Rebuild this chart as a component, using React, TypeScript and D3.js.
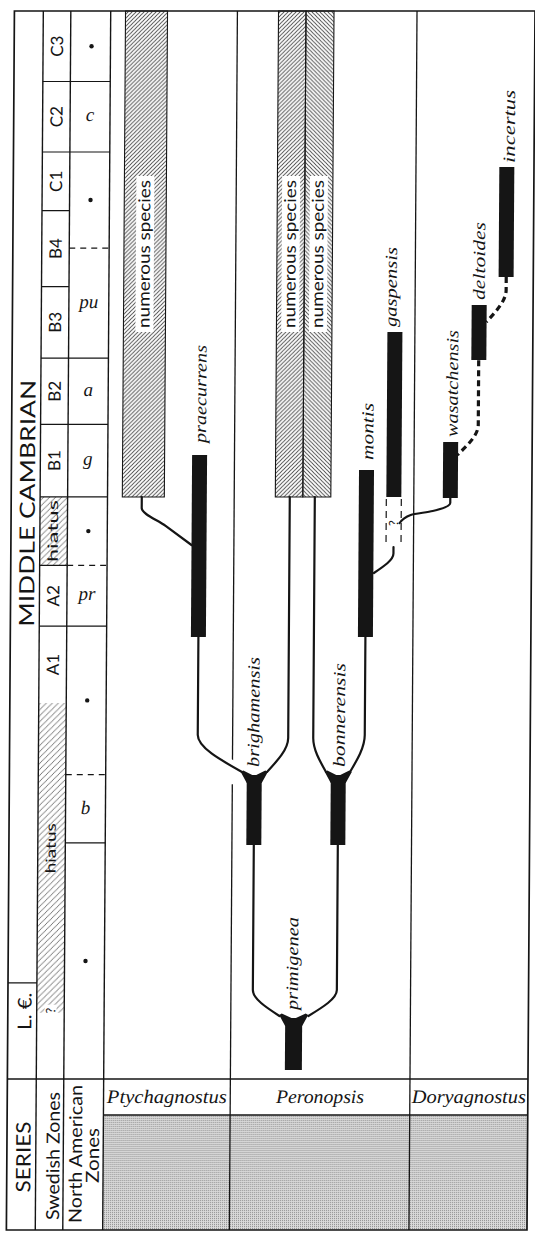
import React from 'react';
import * as d3 from 'd3';

// ---------------- data ----------------
// levels: 0 = base of the chart, 100 = top of the chart (stratigraphic height)
// lanes:  0 = left edge of the genus area, 100 = right edge
const seriesLabels = ['MIDDLE CAMBRIAN', 'L. €.'];
const seriesBounds = [100, 9.0, 0];
const seriesLabelLevels = [53.9, 6.35];

const swedishZones = ['C3', 'C2', 'C1', 'B4', 'B3', 'B2', 'B1', 'hiatus', 'A2', 'A1'];
const swedishBounds = [100, 93.4, 86.8, 81.3, 74.2, 67.5, 61.3, 54.5, 48.1, 42.4, 35.2];
const swedishHiatus = [[54.5, 48.1], [35.2, 6.2]];
const lowerHiatusLabel = 21.6;
const lowerHiatusQuery = 6.4;

const naZones = ['•', 'c', '•', 'pu', 'a', 'g', '•', 'pr', '•', 'b', '•'];
const naBounds = [100, 93.4, 86.8, 77.8, 67.5, 61.3, 54.5, 48.1, 42.4, 28.5, 22.1, 0];
const naDashed = [3, 7, 9];

const genera = ['Ptychagnostus', 'Peronopsis', 'Doryagnostus'];
const genusBounds = [0, 29.86, 72.19, 100];
const genusLineGap = [27.6, 29.7];

// "numerous species" hatched ranges
const numerousGroups = [
  { genus: 'Ptychagnostus', from: 3.49, to: 13.39, top: 100, base: 54.49, hatch: 'R' },
  { genus: 'Peronopsis', from: 39.55, to: 46.03, top: 100, base: 54.49, hatch: 'R' },
  { genus: 'Peronopsis', from: 46.03, to: 52.63, top: 100, base: 54.49, hatch: 'L' },
];
const numerousLabelLevel = 77.25;

const species = [
  { name: 'praecurrens', lane: 21.64, top: 58.43, base: 41.39, label: 59.55 },
  { name: 'brighamensis', lane: 35.02, top: 28.46, base: 21.91, label: 29.21 },
  { name: 'bonnerensis', lane: 54.82, top: 28.46, base: 21.91, label: 29.21 },
  { name: 'primigenea', lane: 44.69, top: 5.71, base: 0.84, label: 6.46 },
  { name: 'montis', lane: 61.0, top: 57.02, base: 41.39, label: 57.96 },
  { name: 'gaspensis', lane: 67.48, top: 69.94, base: 54.49, label: 70.41 },
  { name: 'wasatchensis', lane: 80.79, top: 59.64, base: 54.4, label: 60.11 },
  { name: 'deltoides', lane: 87.3, top: 72.47, base: 67.32, label: 72.94 },
  { name: 'incertus', lane: 93.6, top: 85.39, base: 75.09, label: 85.77 },
];
const forkedSpecies = ['brighamensis', 'bonnerensis', 'primigenea'];

// uncertain range below gaspensis
const queryRange = { lane: 67.48, top: 54.31, base: 49.81 };

// lineage connectors, [lane, level], listed from top to bottom
const solidLinks = [
  [[21.64, 41.39], [21.64, 32.21], [32.12, 28.75]],
  [[42.96, 54.49], [42.96, 31.93], [38.01, 28.75]],
  [[48.86, 54.49], [48.86, 31.93], [51.92, 28.75]],
  [[61.0, 41.39], [61.0, 32.21], [57.58, 28.75]],
  [[35.02, 21.91], [35.02, 8.33], [41.32, 5.9]],
  [[54.82, 21.91], [54.82, 8.33], [48.15, 5.9]],
  [[8.08, 54.49], [8.08, 53.46], [13.74, 51.78], [19.87, 50.0]],
  [[67.48, 49.81], [67.48, 49.2], [62.9, 47.38]],
  [[80.79, 54.4], [80.79, 53.93], [76.67, 53.18], [71.48, 52.81], [68.89, 52.06]],
];
const dashedLinks = [
  [[87.27, 67.3], [87.27, 61.24], [82.4, 58.43]],
  [[93.63, 75.09], [93.63, 73.88], [89.0, 70.88]],
];

// ---------------- styles ----------------
const INK = '#151515';
const SANS = 'Lato, "Open Sans", "DejaVu Sans", sans-serif';
const SERIF = '"Liberation Serif", "DejaVu Serif", serif';
const BAR_W = 15;
const FORK_BAR_W: Record<string, number> = { primigenea: 17 };
const labelDx: Record<string, number> = {
  praecurrens: 6.3, brighamensis: 4.6, bonnerensis: 6.3, primigenea: 4, montis: 6.6,
  gaspensis: 1.5, wasatchensis: 6.9, deltoides: 5.5, incertus: 7.8,
};
const labelLen: Record<string, number> = {
  praecurrens: 98, brighamensis: 110, bonnerensis: 104, primigenea: 93, montis: 57,
  gaspensis: 80, wasatchensis: 107, deltoides: 78, incertus: 73,
};
const genusLen: Record<string, number> = { Ptychagnostus: 120, Peronopsis: 88, Doryagnostus: 114 };

function VText(props: any) {
  const { x, y, size, family, italic, anchor = 'middle', dy = '0', len, weight, children } = props;
  return (
    <text
      transform={`translate(${x},${y}) rotate(-90)`}
      textAnchor={anchor}
      dy={dy}
      fontSize={size}
      fontFamily={family}
      fontStyle={italic ? 'italic' : 'normal'}
      fontWeight={weight || 'normal'}
      fill={INK}
      textLength={len}
      lengthAdjust={len ? 'spacingAndGlyphs' : undefined}
    >
      {children}
    </text>
  );
}

export default function App() {
  const Y = d3.scaleLinear().domain([0, 100]).range([1079, 11]);
  const X = d3.scaleLinear().domain([0, 100]).range([106.7, 531]);
  const link = d3.line<number[]>().x((d) => X(d[0])).y((d) => Y(d[1])).curve(d3.curveMonotoneY);

  const colX = [10.4, 39.3, 66.8, X(0)];
  const top = Y(100);
  const base = Y(0);
  const right = X(100);
  const headBottom = 1115;
  const bottom = 1230;
  const mid = (a: number, b: number) => (a + b) / 2;

  return (
    <svg
      width={535}
      height={1233}
      viewBox="0 0 535 1233"
      style={{ position: 'absolute', left: 0, top: 0, display: 'block' }}
    >
      <defs>
        <pattern id="hatchR" patternUnits="userSpaceOnUse" width="4" height="4">
          <path d="M-1,1 l2,-2 M0,4 l4,-4 M3,5 l2,-2" stroke="#3a3a3a" strokeWidth="0.85" />
        </pattern>
        <pattern id="hatchL" patternUnits="userSpaceOnUse" width="4" height="4">
          <path d="M-1,3 l2,2 M0,0 l4,4 M3,-1 l2,2" stroke="#3a3a3a" strokeWidth="0.85" />
        </pattern>
        <pattern id="hatchS" patternUnits="userSpaceOnUse" width="6" height="6">
          <path d="M-1.5,1.5 l3,-3 M0,6 l6,-6 M4.5,7.5 l3,-3" stroke="#555" strokeWidth="0.8" />
        </pattern>
        <pattern id="stipple" patternUnits="userSpaceOnUse" width="2" height="2">
          <rect width="2" height="2" fill="#dadada" />
          <rect width="1" height="1" fill="#8c8c8c" />
        </pattern>
      </defs>
      <rect width={535} height={1233} fill="#fff" />
      <g transform="translate(4.09,0) skewX(-0.378)">
        {/* stippled bottom row */}
        {genera.map((g, i) => (
          <rect
            key={'st' + g}
            x={X(genusBounds[i])}
            y={headBottom}
            width={X(genusBounds[i + 1]) - X(genusBounds[i])}
            height={bottom - headBottom}
            fill="url(#stipple)"
          />
        ))}

        {/* Swedish hiatus hatching */}
        {swedishHiatus.map(([a, b], i) => (
          <rect key={'sh' + i} x={colX[1]} y={Y(a)} width={colX[2] - colX[1]} height={Y(b) - Y(a)} fill="url(#hatchS)" />
        ))}

        {/* frame and grid */}
        <g stroke={INK} fill="none">
          <rect x={colX[0]} y={top} width={right - colX[0]} height={bottom - top} strokeWidth={1.7} />
          {colX.slice(1).map((x, i) => (
            <line key={'cv' + i} x1={x} x2={x} y1={top} y2={bottom} strokeWidth={1.4} />
          ))}
          <line x1={X(genusBounds[1])} x2={X(genusBounds[1])} y1={top} y2={Y(genusLineGap[1])} strokeWidth={1.3} />
          <line x1={X(genusBounds[1])} x2={X(genusBounds[1])} y1={Y(genusLineGap[0])} y2={bottom} strokeWidth={1.3} />
          <line x1={X(genusBounds[2])} x2={X(genusBounds[2])} y1={top} y2={bottom} strokeWidth={1.3} />
          <line x1={colX[0]} x2={right} y1={base} y2={base} strokeWidth={1.6} />
          <line x1={X(0)} x2={right} y1={headBottom} y2={headBottom} strokeWidth={1.4} />
          <line x1={colX[0]} x2={colX[1]} y1={Y(seriesBounds[1])} y2={Y(seriesBounds[1])} strokeWidth={1.2} />
          {swedishBounds.slice(1, swedishBounds.length - 1).map((b, i) => (
            <line key={'sb' + i} x1={colX[1]} x2={colX[2]} y1={Y(b)} y2={Y(b)} strokeWidth={1.2} />
          ))}
          {naBounds.slice(1, naBounds.length - 1).map((b, j) => {
            const i = j + 1;
            const dashed = naDashed.includes(i);
            return (
              <line
                key={'nb' + i}
                x1={colX[2]}
                x2={colX[3]}
                y1={Y(b)}
                y2={Y(b)}
                strokeWidth={1.2}
                strokeDasharray={dashed ? '6,5' : undefined}
              />
            );
          })}
        </g>

        {/* series labels */}
        {seriesLabels.map((s, i) => (
          <VText
            key={'se' + s}
            x={34}
            y={Y(seriesLabelLevels[i])}
            size={i === 0 ? 21 : 19}
            family={SANS}
            len={i === 0 ? 247 : 37}
          >
            {s}
          </VText>
        ))}

        {/* Swedish zone labels */}
        {swedishZones.map((z, i) =>
          z === 'hiatus' ? (
            <VText key={'sz' + i} x={mid(colX[1], colX[2])} y={Y(mid(swedishBounds[i], swedishBounds[i + 1]))} dy="0.3em" size={14} family={SANS} len={62}>
              {z}
            </VText>
          ) : (
            <VText key={'sz' + i} x={mid(colX[1], colX[2])} y={Y(mid(swedishBounds[i], swedishBounds[i + 1]))} dy="0.36em" size={17} family={SANS}>
              {z}
            </VText>
          )
        )}
        <VText x={mid(colX[1], colX[2])} y={Y(lowerHiatusLabel)} dy="0.3em" size={14} family={SANS} len={50}>
          hiatus
        </VText>
        <rect x={mid(colX[1], colX[2]) - 6} y={Y(lowerHiatusQuery) - 6} width={12} height={12} fill="#fff" />
        <VText x={mid(colX[1], colX[2])} y={Y(lowerHiatusQuery)} dy="0.36em" size={13} family={SANS}>
          ?
        </VText>

        {/* North American zone labels */}
        {naZones.map((z, i) => {
          const cy = Y(mid(naBounds[i], naBounds[i + 1]));
          const cx = mid(colX[2], colX[3]);
          return z === '•' ? (
            <circle key={'na' + i} cx={cx + 1} cy={cy} r={2.2} fill={INK} />
          ) : (
            <text key={'na' + i} x={cx} y={cy} dy="0.25em" textAnchor="middle" fontSize={19} fontStyle="italic" fontFamily={SERIF} fill={INK}>
              {z}
            </text>
          );
        })}

        {/* bottom header labels */}
        <VText x={34} y={1157} size={20} family={SANS} len={71}>SERIES</VText>
        <VText x={63} y={1156} size={18} family={SANS} len={128}>Swedish Zones</VText>
        <VText x={85.5} y={1154} size={18} family={SANS} len={138}>North American</VText>
        <VText x={102.5} y={1155.5} size={18} family={SANS} len={55}>Zones</VText>
        {genera.map((g, i) => (
          <text
            key={'gn' + g}
            x={mid(X(genusBounds[i]), X(genusBounds[i + 1]))}
            y={1103}
            textAnchor="middle"
            fontSize={19}
            fontStyle="italic"
            fontFamily={SERIF}
            fill={INK}
            textLength={genusLen[g]}
            lengthAdjust="spacingAndGlyphs"
          >
            {g}
          </text>
        ))}

        {/* numerous species */}
        {numerousGroups.map((n, i) => (
          <rect
            key={'ng' + i}
            x={X(n.from)}
            y={Y(n.top)}
            width={X(n.to) - X(n.from)}
            height={Y(n.base) - Y(n.top)}
            fill={n.hatch === 'R' ? 'url(#hatchR)' : 'url(#hatchL)'}
            stroke={INK}
            strokeWidth={1.1}
          />
        ))}
        {numerousGroups.map((n, i) => {
          const cx = mid(X(n.from), X(n.to));
          const cy = Y(numerousLabelLevel);
          return (
            <g key={'nl' + i}>
              <rect x={cx - 9} y={cy - 78} width={18} height={156} fill="#fff" />
              <VText x={cx} y={cy} dy="0.3em" size={16.5} family={SANS} len={148}>
                numerous species
              </VText>
            </g>
          );
        })}

        {/* connectors */}
        <path d={link(solidLinks[0] as any) || ''} fill="none" stroke="#fff" strokeWidth={12} />
        {solidLinks.map((l, i) => (
          <path key={'sl' + i} d={link(l as any) || ''} fill="none" stroke={INK} strokeWidth={2.2} strokeLinecap="round" />
        ))}
        {dashedLinks.map((l, i) => (
          <path key={'dl' + i} d={link(l as any) || ''} fill="none" stroke={INK} strokeWidth={3.2} strokeDasharray="6,4" />
        ))}

        {/* uncertain range */}
        <g stroke={INK} strokeWidth={1.2} strokeDasharray="7,5" fill="none">
          <line x1={X(queryRange.lane) - BAR_W / 2} x2={X(queryRange.lane) - BAR_W / 2} y1={Y(queryRange.top)} y2={Y(queryRange.base)} />
          <line x1={X(queryRange.lane) + BAR_W / 2} x2={X(queryRange.lane) + BAR_W / 2} y1={Y(queryRange.top)} y2={Y(queryRange.base)} />
        </g>
        <VText x={X(queryRange.lane)} y={Y(mid(queryRange.top, queryRange.base))} dy="0.36em" size={13} family={SANS}>
          ?
        </VText>

        {/* species range bars */}
        {species.map((s) => {
          const w = FORK_BAR_W[s.name] || BAR_W;
          const cx = X(s.lane);
          const xL = cx - w / 2;
          const xR = cx + w / 2;
          const yT = Y(s.top);
          const yB = Y(s.base);
          return (
            <g key={'sp' + s.name}>
              <rect x={xL} y={yT} width={w} height={yB - yT} fill={INK} />
              {forkedSpecies.includes(s.name) && (
                <path
                  d={`M${xL},${yT + 8} L${xL - 6},${yT - 3} L${xL - 3.5},${yT - 4.5} L${cx},${yT + 1} L${xR + 3.5},${yT - 4.5} L${xR + 6},${yT - 3} L${xR},${yT + 8} Z`}
                  fill={INK}
                />
              )}
            </g>
          );
        })}

        {/* species labels */}
        {species.map((s) => (
          <VText
            key={'lb' + s.name}
            x={X(s.lane) + labelDx[s.name]}
            y={Y(s.label)}
            anchor="start"
            size={17}
            italic
            family={SERIF}
            len={labelLen[s.name]}
          >
            {s.name}
          </VText>
        ))}
      </g>
    </svg>
  );
}
